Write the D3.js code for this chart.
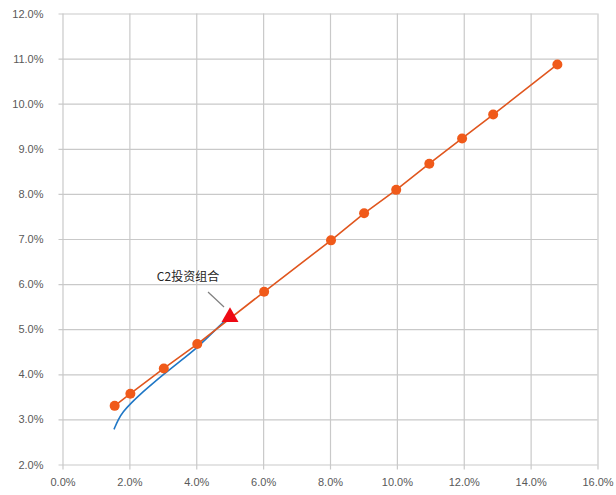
<!DOCTYPE html>
<html>
<head>
<meta charset="utf-8">
<script src="https://cdn.jsdelivr.net/npm/d3@7"></script>
<style>
  html, body { margin: 0; padding: 0; background: #fff; }
  svg { display: block; }
</style>
</head>
<body>
<svg id="chart" width="616" height="495"></svg>
<script>
// ---- data ----
const xTicks = [0, 2, 4, 6, 8, 10, 12, 14, 16];
const yTicks = [2, 3, 4, 5, 6, 7, 8, 9, 10, 11, 12];

// orange series (portfolios)
const orangeX = [1.56, 2.03, 3.03, 4.03, 6.03, 8.03, 9.02, 9.98, 10.97, 11.95, 12.88, 14.8];
const orangeY = [3.30, 3.57, 4.13, 4.67, 5.83, 6.97, 7.57, 8.09, 8.67, 9.23, 9.76, 10.87];

// blue curve (frontier)
const blueX = [1.54, 1.66, 1.81, 2.06, 2.36, 2.66, 3.01, 3.50, 4.01, 4.40, 4.76, 4.98];
const blueY = [2.78, 2.99, 3.17, 3.37, 3.58, 3.77, 3.99, 4.28, 4.58, 4.86, 5.12, 5.27];

// highlighted portfolio
const c2Label = "C2投资组合";
const c2X = [5.01];
const c2Y = [5.27];

// ---- chart ----
const svg = d3.select("#chart");
const x = d3.scaleLinear().domain([0, 16]).range([62.5, 597.5]);
const y = d3.scaleLinear().domain([2, 12]).range([464.5, 13.5]);

const gridColor = "#c9c9c9";
const textColor = "#595959";
const font = "'Liberation Sans', Arial, sans-serif";

// horizontal gridlines via axis
const yAxis = d3.axisLeft(y).tickValues(yTicks)
  .tickSize(-(x(16) - x(0)) - 4).tickFormat(d => d3.format(".1f")(d) + "%").tickPadding(0);
const gy = svg.append("g").attr("transform", `translate(${x(0) - 4},0)`).call(yAxis);
gy.select(".domain").remove();
gy.selectAll(".tick line").attr("stroke", gridColor).attr("stroke-width", 1.2);
gy.selectAll(".tick text").attr("x", -15).attr("fill", textColor)
  .style("font-family", font).style("font-size", "11px");

// vertical gridlines via axis
const xAxis = d3.axisBottom(x).tickValues(xTicks)
  .tickSize(-(y(2) - y(12)) - 5).tickFormat(d => d3.format(".1f")(d) + "%");
const gx = svg.append("g").attr("transform", `translate(0,${y(2) + 5})`).call(xAxis);
gx.select(".domain").remove();
gx.selectAll(".tick line").attr("stroke", gridColor).attr("stroke-width", 1.2);
gx.selectAll(".tick text").attr("y", 16).attr("dy", "0").attr("fill", textColor)
  .style("font-family", font).style("font-size", "11px");

// blue curve
const blueData = blueX.map((v, i) => [v, blueY[i]]);
svg.append("path").datum(blueData)
  .attr("fill", "none").attr("stroke", "#1f77c6").attr("stroke-width", 1.6)
  .attr("d", d3.line().x(d => x(d[0])).y(d => y(d[1])).curve(d3.curveBasis));

// orange line + markers
const orangeData = orangeX.map((v, i) => [v, orangeY[i]]);
svg.append("path").datum(orangeData)
  .attr("fill", "none").attr("stroke", "#e0561e").attr("stroke-width", 1.6)
  .attr("d", d3.line().x(d => x(d[0])).y(d => y(d[1])));
svg.append("g").selectAll("circle").data(orangeData).join("circle")
  .attr("cx", d => x(d[0])).attr("cy", d => y(d[1])).attr("r", 5)
  .attr("fill", "#f05a1a");

// annotation leader line
const c2 = [c2X[0], c2Y[0]];
svg.append("line")
  .attr("x1", x(c2[0]) - 22).attr("y1", y(c2[1]) - 25)
  .attr("x2", x(c2[0]) - 6).attr("y2", y(c2[1]) - 10)
  .attr("stroke", "#7f7f7f").attr("stroke-width", 1.2);

// triangle marker
svg.append("path")
  .attr("d", d3.symbol().type(d3.symbolTriangle).size(125)())
  .attr("transform", `translate(${x(c2[0])},${y(c2[1])})`)
  .attr("fill", "#ee0a14");

// label
svg.append("text")
  .attr("x", x(c2[0]) - 42).attr("y", y(c2[1]) - 36)
  .attr("text-anchor", "middle")
  .attr("fill", "#262626")
  .style("font-family", "'Noto Sans CJK SC', 'Liberation Sans', sans-serif")
  .style("font-size", "12px")
  .text(c2Label);
</script>
</body>
</html>
